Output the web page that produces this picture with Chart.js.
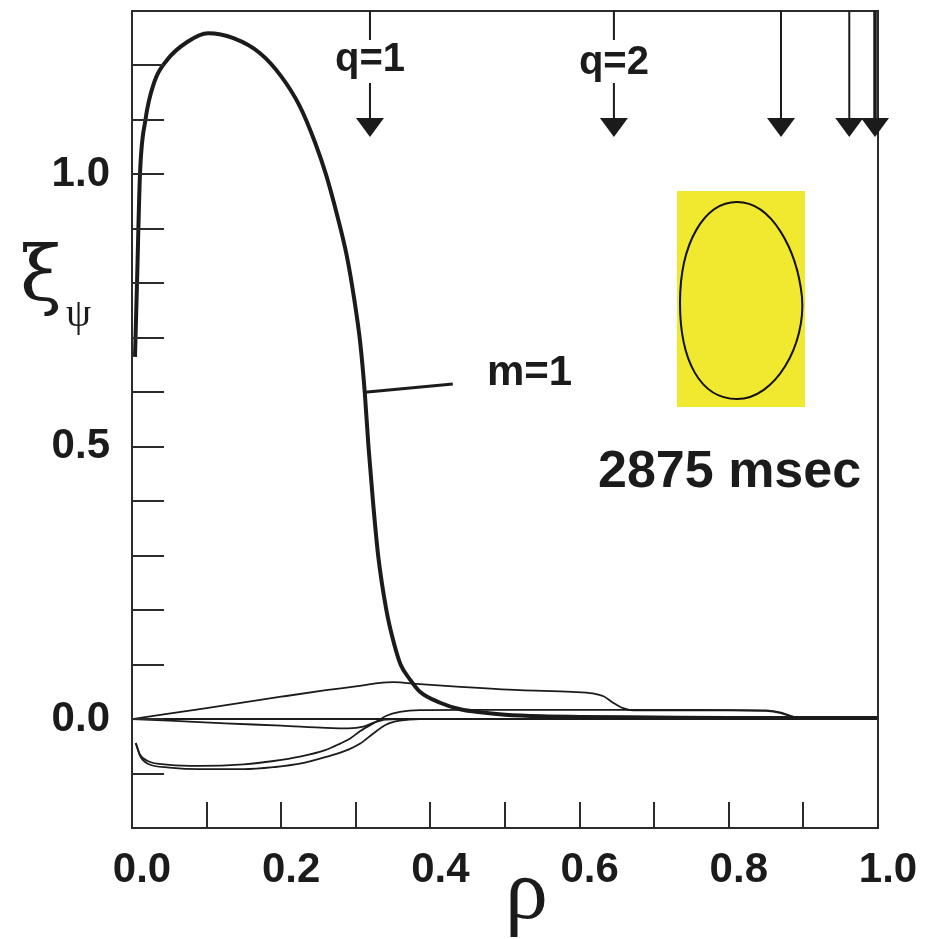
<!DOCTYPE html>
<html>
<head>
<meta charset="utf-8">
<script src="https://cdn.jsdelivr.net/npm/chart.js@4.4.1/dist/chart.umd.min.js"></script>
<style>
  html, body { margin: 0; padding: 0; background: #fff; }
  #wrap { width: 932px; height: 939px; }
</style>
</head>
<body>
<div id="wrap"><canvas id="chart" width="932" height="939"></canvas></div>
<script>
// displacement profiles xi_psi(rho)

// m=1 (thick)
const rhoM1 = [0.004, 0.0067, 0.0107, 0.018, 0.03, 0.047, 0.074, 0.102, 0.136, 0.172, 0.2, 0.225,
               0.245, 0.26, 0.275, 0.288, 0.298, 0.306, 0.312, 0.317, 0.323, 0.33, 0.341, 0.35, 0.36, 0.373,
               0.386, 0.413, 0.44, 0.47, 0.5, 0.55, 0.6, 0.7, 0.8, 0.9, 1.0];
const xiM1  = [0.665, 0.8, 1.0, 1.1, 1.17, 1.21, 1.243, 1.259, 1.25, 1.222, 1.18, 1.125,
               1.06, 1.0, 0.925, 0.85, 0.77, 0.69, 0.6, 0.5, 0.4, 0.3, 0.2, 0.145, 0.1, 0.072,
               0.05, 0.03, 0.018, 0.012, 0.008, 0.005, 0.004, 0.003, 0.002, 0.002, 0.002];

// thin curves
const rhoA = [0, 0.1, 0.2, 0.26, 0.3, 0.33, 0.35, 0.386, 0.44, 0.52, 0.59, 0.618, 0.632, 0.645,
              0.658, 0.672, 0.7, 0.8, 0.85, 0.87, 0.885, 0.9, 1.0];
const xiA  = [0, 0.02, 0.041, 0.053, 0.06, 0.066, 0.068, 0.064, 0.059, 0.053, 0.05, 0.047, 0.042, 0.03,
              0.02, 0.016, 0.016, 0.016, 0.015, 0.011, 0.004, 0.001, 0];

const rhoB = [0, 0.05, 0.125, 0.2, 0.26, 0.29, 0.31, 0.325, 0.34, 0.36, 1.0];
const xiB  = [0, -0.003, -0.008, -0.012, -0.016, -0.017, -0.014, -0.006, -0.001, 0, 0];

const rhoC = [0.005, 0.011, 0.021, 0.05, 0.09, 0.15, 0.19, 0.225, 0.259, 0.279, 0.292, 0.306, 0.326,
              0.341, 0.359, 0.386, 0.45, 0.6, 0.75, 0.85, 0.87, 0.885, 0.9, 1.0];
const xiC  = [-0.044, -0.066, -0.077, -0.084, -0.086, -0.083, -0.077, -0.069, -0.057, -0.045, -0.036, -0.022, -0.006,
              0.006, 0.013, 0.0165, 0.017, 0.017, 0.017, 0.016, 0.012, 0.005, 0.001, 0];

const rhoD = [0.005, 0.011, 0.021, 0.05, 0.09, 0.15, 0.192, 0.225, 0.259, 0.29, 0.306, 0.323, 0.341,
              0.359, 0.386, 0.45, 1.0];
const xiD  = [-0.044, -0.068, -0.082, -0.089, -0.092, -0.092, -0.088, -0.082, -0.07, -0.056, -0.045, -0.027, -0.01,
              -0.003, 0, 0, 0];

const rhoZero = [0, 1.0];
const xiZero  = [0, 0];

// rational surface markers along the top
const arrowRho    = [0.319, 0.646, 0.870, 0.9615, 0.996];
const arrowLabels = ['q=1', 'q=2', '', '', ''];

// axes
const xMin = 0, xMax = 1.0, yMin = -0.2, yMax = 1.3;
const xLabelVals = [0.0, 0.2, 0.4, 0.6, 0.8, 1.0];
const yLabelVals = [0.0, 0.5, 1.0];

const INK = '#1b1b1b';
const SANS = '"Liberation Sans", Arial, Helvetica, sans-serif';
const SERIF = '"Liberation Serif", "DejaVu Serif", serif';

function pts(xs, ys) { return xs.map((x, i) => ({ x, y: ys[i] })); }
function near(v, list) { return list.some(l => Math.abs(l - v) < 1e-6); }

function lineSet(xs, ys, w) {
  return {
    data: pts(xs, ys),
    borderColor: INK,
    borderWidth: w,
    pointRadius: 0,
    fill: false,
    cubicInterpolationMode: 'monotone',
  };
}

const overlay = {
  id: 'overlay',
  afterDraw(chart) {
    const { ctx, chartArea: a, scales: { x, y } } = chart;
    ctx.save();
    ctx.strokeStyle = '#2b2b2b';
    ctx.fillStyle = INK;

    // frame
    ctx.lineWidth = 2;
    ctx.strokeRect(a.left, a.top, a.right - a.left, a.bottom - a.top);

    // inward ticks
    ctx.lineWidth = 2;
    ctx.beginPath();
    x.ticks.forEach(t => {
      if (t.value <= xMin + 1e-6 || t.value >= xMax - 1e-6) return;
      const px = Math.round(x.getPixelForValue(t.value));
      ctx.moveTo(px, a.bottom); ctx.lineTo(px, a.bottom - 26);
    });
    y.ticks.forEach(t => {
      if (t.value <= yMin + 1e-6 || t.value >= yMax - 1e-6) return;
      const py = Math.round(y.getPixelForValue(t.value));
      ctx.moveTo(a.left, py); ctx.lineTo(a.left + 32, py);
    });
    ctx.stroke();

    // arrows for rational surfaces
    ctx.strokeStyle = INK;
    ctx.font = 'bold 40px ' + SANS;
    ctx.textAlign = 'center';
    ctx.textBaseline = 'alphabetic';
    arrowRho.forEach((r, i) => {
      const px = x.getPixelForValue(r);
      ctx.lineWidth = i === arrowRho.length - 1 ? 3.5 : 2;
      ctx.beginPath();
      if (arrowLabels[i]) {
        ctx.moveTo(px, a.top); ctx.lineTo(px, 40);
        ctx.moveTo(px, 83); ctx.lineTo(px, 120);
      } else {
        ctx.moveTo(px, a.top); ctx.lineTo(px, 120);
      }
      ctx.stroke();
      ctx.beginPath();
      ctx.moveTo(px - 14, 118); ctx.lineTo(px + 14, 118); ctx.lineTo(px, 137);
      ctx.closePath();
      ctx.fill();
      if (arrowLabels[i]) ctx.fillText(arrowLabels[i], px, i === 0 ? 71 : 74);
    });

    // m=1 leader and label
    ctx.lineWidth = 3;
    ctx.beginPath();
    ctx.moveTo(x.getPixelForValue(0.312), y.getPixelForValue(0.60));
    ctx.lineTo(x.getPixelForValue(0.43), y.getPixelForValue(0.615));
    ctx.stroke();
    ctx.textAlign = 'left';
    ctx.font = 'bold 42px ' + SANS;
    ctx.fillText('m=1', 487, 385);

    // time stamp
    ctx.font = 'bold 52px ' + SANS;
    ctx.fillText('2875 msec', 598, 487);

    // plasma boundary inset
    ctx.fillStyle = '#f0e92f';
    ctx.fillRect(677, 191, 128, 216);
    ctx.strokeStyle = '#111';
    ctx.lineWidth = 2;
    ctx.beginPath();
    ctx.moveTo(737, 202);
    ctx.bezierCurveTo(772, 202, 797, 250, 802, 297);
    ctx.bezierCurveTo(806, 345, 775, 399, 737, 399);
    ctx.bezierCurveTo(700, 399, 680, 360, 680, 303);
    ctx.bezierCurveTo(680, 242, 705, 202, 737, 202);
    ctx.stroke();

    // axis titles
    ctx.fillStyle = INK;
    ctx.textAlign = 'left';
    ctx.font = '76px "DejaVu Serif", serif';
    ctx.fillText('ξ', 20, 300);
    ctx.font = '40px ' + SERIF;
    ctx.fillText('ψ', 66, 326);
    ctx.font = '86px ' + SERIF;
    ctx.fillText('ρ', 505, 918);

    ctx.restore();
  }
};

new Chart(document.getElementById('chart'), {
  type: 'line',
  data: {
    datasets: [
      lineSet(rhoZero, xiZero, 2),
      lineSet(rhoB, xiB, 1.8),
      lineSet(rhoD, xiD, 1.8),
      lineSet(rhoC, xiC, 1.8),
      lineSet(rhoA, xiA, 1.8),
      lineSet(rhoM1, xiM1, 4),
    ]
  },
  options: {
    responsive: false,
    animation: false,
    devicePixelRatio: 1,
    layout: { padding: { top: 11, right: 54, left: 0, bottom: 0 } },
    plugins: { legend: { display: false }, tooltip: { enabled: false } },
    scales: {
      x: {
        type: 'linear', min: xMin, max: xMax,
        grid: { display: false }, border: { display: false },
        afterFit: s => { s.height = 111; s.paddingLeft = 0; s.paddingRight = 0; },
        ticks: {
          stepSize: 0.1, autoSkip: false, maxRotation: 0, padding: 9, labelOffset: 10,
          color: INK, font: { family: SANS, size: 42, weight: 'bold' },
          callback: v => near(v, xLabelVals) ? (Math.round(v * 10) / 10).toFixed(1) : '',
        },
      },
      y: {
        type: 'linear', min: yMin, max: yMax,
        grid: { display: false }, border: { display: false },
        afterFit: s => { s.width = 132; s.paddingTop = 0; s.paddingBottom = 0; },
        ticks: {
          stepSize: 0.1, autoSkip: false, padding: 14,
          color: INK, font: { family: SANS, size: 42, weight: 'bold' },
          callback: v => near(v, yLabelVals) ? (Math.round(v * 10) / 10).toFixed(1) : '',
        },
      },
    },
  },
  plugins: [overlay],
});
</script>
</body>
</html>
